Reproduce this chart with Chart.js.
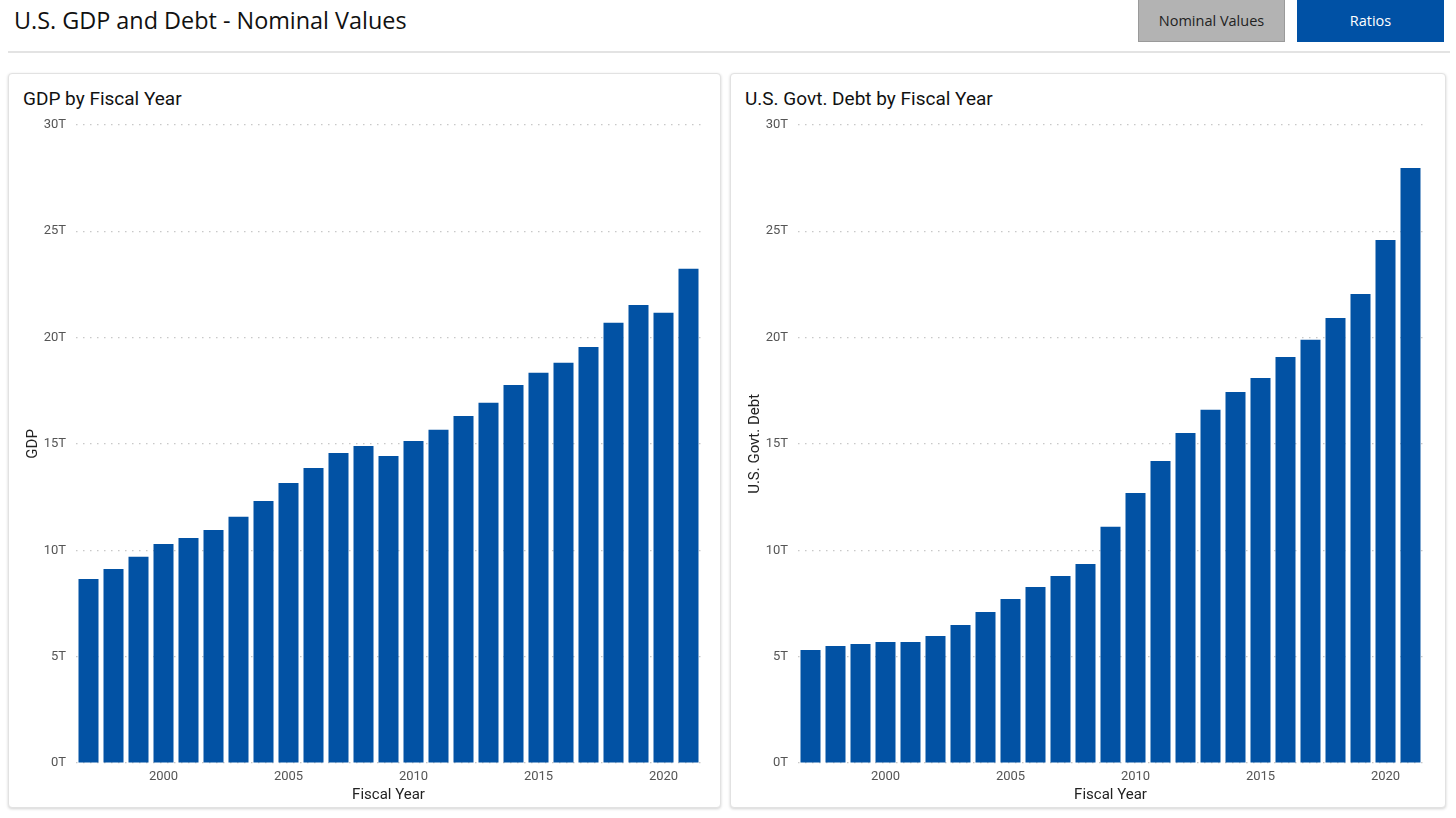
<!DOCTYPE html>
<html>
<head>
<meta charset="utf-8">
<script src="https://cdn.jsdelivr.net/npm/chart.js@4.4.1/dist/chart.umd.min.js"></script>
<style>
  html, body { margin:0; padding:0; background:#fff; width:1456px; height:818px; overflow:hidden; font-family:"Open Sans", "Noto Sans", sans-serif; }
  #title { position:absolute; left:14px; top:4px; font-size:23.4px; color:#111; font-family:"Open Sans", sans-serif; }
  #divider { position:absolute; left:8px; top:51px; width:1442px; height:2px; background:#e3e3e3; }
  .btn { position:absolute; top:0; height:42px; line-height:42px; text-align:center; font-size:14.5px; font-family:"Open Sans", sans-serif; box-sizing:border-box; }
  #btnNom { left:1138px; width:147px; background:#b3b3b3; color:#222; border:1px solid #9a9a9a; border-top:none; }
  #btnRat { left:1297px; width:147px; background:#0051a5; color:#fff; }
  .panel { position:absolute; top:73px; height:735px; border:1px solid #e2e2e2; border-radius:4px; box-shadow:0 1px 3px rgba(0,0,0,0.18); background:#fff; box-sizing:border-box; }
  #p1 { left:8px; width:713px; }
  #p2 { left:730px; width:716px; }
  .ptitle { position:absolute; top:87px; font-size:19px; color:#111; font-family:Roboto, sans-serif; }
  .cwrap { position:absolute; top:107px; width:700px; height:697px; }
</style>
</head>
<body>
<div id="title">U.S. GDP and Debt - Nominal Values</div>
<div class="btn" id="btnNom">Nominal Values</div>
<div class="btn" id="btnRat">Ratios</div>
<div id="divider"></div>
<div class="panel" id="p1"></div>
<div class="panel" id="p2"></div>
<div class="ptitle" style="left:23px;">GDP by Fiscal Year</div>
<div class="ptitle" style="left:745px;">U.S. Govt. Debt by Fiscal Year</div>
<div class="cwrap" style="left:14px;"><canvas id="c1"></canvas></div>
<div class="cwrap" style="left:736px;"><canvas id="c2"></canvas></div>
<script>
// Data (values in trillions of USD)
const years = [1997,1998,1999,2000,2001,2002,2003,2004,2005,2006,2007,2008,2009,2010,2011,2012,2013,2014,2015,2016,2017,2018,2019,2020,2021];
const gdpValues = [8.65,9.12,9.69,10.30,10.58,10.95,11.57,12.32,13.16,13.87,14.57,14.90,14.43,15.14,15.66,16.31,16.93,17.77,18.34,18.81,19.56,20.69,21.53,21.16,23.23];
const debtValues = [5.31,5.50,5.59,5.69,5.69,5.97,6.49,7.10,7.71,8.27,8.79,9.36,11.10,12.69,14.20,15.51,16.60,17.44,18.10,19.09,19.89,20.92,22.05,24.59,27.97];
const yTickValues = [0,5,10,15,20,25,30];
const yTickLabels = ['0T','5T','10T','15T','20T','25T','30T'];
const xTickYears = [2000,2005,2010,2015,2020];

const barColor = '#0252a4';

function makeChart(id, values, yTitle) {
  return new Chart(document.getElementById(id), {
    type: 'bar',
    data: {
      labels: years.map(String),
      datasets: [{ data: values, backgroundColor: barColor, borderWidth: 0, barPercentage: 0.8, categoryPercentage: 1.0 }]
    },
    options: {
      responsive: true,
      maintainAspectRatio: false,
      animation: false,
      layout: { padding: { top: 9, right: 13, left: 0, bottom: 0 } },
      plugins: { legend: { display: false }, tooltip: { enabled: false } },
      scales: {
        x: {
          offset: true,
          grid: { display: false, drawTicks: false },
          border: { display: false },
          ticks: {
            autoSkip: false, maxRotation: 0, padding: 6,
            color: '#555', font: { family: 'Roboto', size: 13 },
            callback: function(v, i) { const y = years[i]; return xTickYears.includes(y) ? String(y) : ''; }
          },
          title: { display: true, text: 'Fiscal Year', color: '#222', font: { family: 'Roboto', size: 15 }, padding: { top: 0, bottom: 0 } },
          afterFit: function(s) { s.height = 41; }
        },
        y: {
          min: 0, max: 30,
          grid: { color: '#c8c8c8', lineWidth: 1.2, drawTicks: false, borderDash: [1.5, 5.5] },
          border: { display: false, dash: [1.5, 5.5] },
          ticks: {
            stepSize: 5, padding: 10,
            color: '#555', font: { family: 'Roboto', size: 13 },
            callback: function(v) { const i = yTickValues.indexOf(v); return i >= 0 ? yTickLabels[i] : ''; }
          },
          title: { display: true, text: yTitle, color: '#222', font: { family: 'Roboto', size: 15 }, padding: { top: 10, bottom: 0 } },
          afterFit: function(s) { s.width = 62; }
        }
      }
    }
  });
}

makeChart('c1', gdpValues, 'GDP');
makeChart('c2', debtValues, 'U.S. Govt. Debt');
</script>
</body>
</html>
